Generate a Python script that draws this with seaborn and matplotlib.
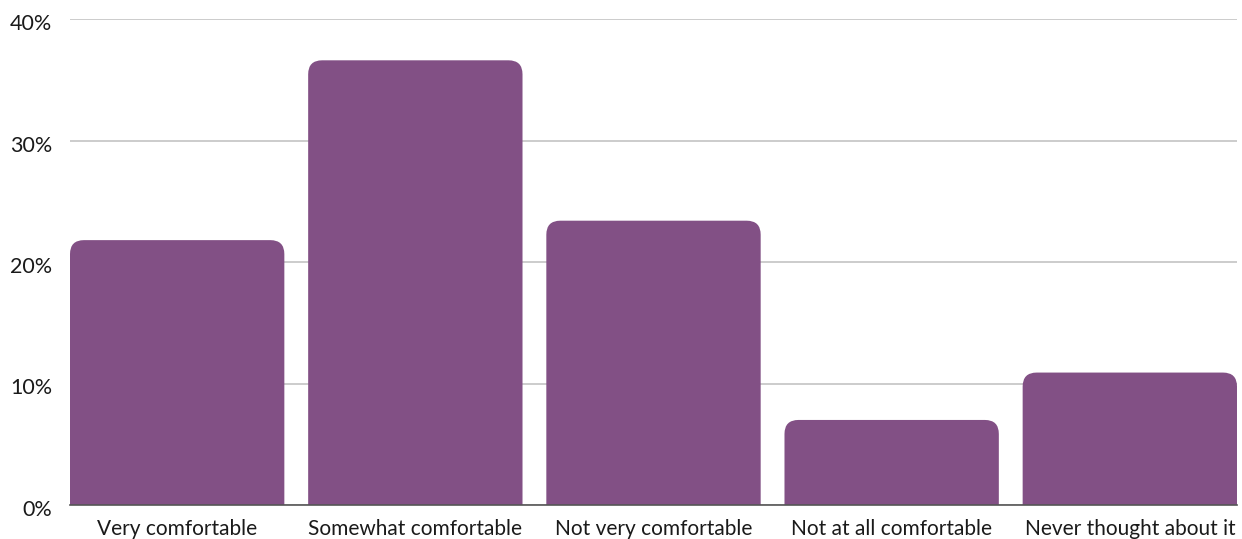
import matplotlib
matplotlib.use("Agg")
import matplotlib.pyplot as plt
from matplotlib.path import Path
from matplotlib.patches import PathPatch
from matplotlib.ticker import FuncFormatter
from matplotlib.transforms import ScaledTranslation
import seaborn as sns
import pandas as pd

categories = ["Very comfortable", "Somewhat comfortable", "Not very comfortable",
              "Not at all comfortable", "Never thought about it"]
shares = [21.8, 36.6, 23.4, 7.0, 10.9]
y_ticks = [0, 10, 20, 30, 40]

bar_color = "#825085"

sns.set_theme(style="white")
plt.rcParams["font.family"] = ["Lato", "DejaVu Sans"]

df = pd.DataFrame({"category": categories, "share": shares})

fig = plt.figure(figsize=(12.42, 5.39), dpi=100)
ax = fig.add_axes([70 / 1242, 34 / 539, 1167 / 1242, 486 / 539])

sns.barplot(data=df, x="category", y="share", color=bar_color, width=0.9,
            saturation=1, ax=ax, zorder=3)

ax.set_xlim(-0.45, 4.45)
ax.set_ylim(0, 40)

# Replace the square bars with bars rounded at the top corners
fig.canvas.draw()
px_x = ax.transData.transform([(1, 0)])[0][0] - ax.transData.transform([(0, 0)])[0][0]
px_y = ax.transData.transform([(0, 1)])[0][1] - ax.transData.transform([(0, 0)])[0][1]
radius_px = 14
rx = radius_px / px_x
ry = radius_px / px_y
for patch in list(ax.patches):
    x0, y0 = patch.get_x(), patch.get_y()
    w, h = patch.get_width(), patch.get_height()
    x1, y1 = x0 + w, y0 + h
    r_y = min(ry, h / 2)
    verts = [
        (x0, y0), (x0, y1 - r_y),
        (x0, y1), (x0 + rx, y1),
        (x1 - rx, y1),
        (x1, y1), (x1, y1 - r_y),
        (x1, y0), (x0, y0),
    ]
    codes = [Path.MOVETO, Path.LINETO, Path.CURVE3, Path.CURVE3, Path.LINETO,
             Path.CURVE3, Path.CURVE3, Path.LINETO, Path.CLOSEPOLY]
    ax.add_patch(PathPatch(Path(verts, codes), facecolor=bar_color,
                           edgecolor="none", zorder=3))
    patch.remove()

ax.set_yticks(y_ticks)
ax.yaxis.set_major_formatter(FuncFormatter(lambda v, _: f"{v:.0f}%"))
ax.grid(axis="y", color="#c4c4c4", linewidth=1.2, zorder=0)
ax.grid(axis="x", visible=False)

for side in ["top", "right", "left"]:
    ax.spines[side].set_visible(False)
ax.spines["bottom"].set_color("#555555")
ax.spines["bottom"].set_linewidth(1.2)
ax.spines["bottom"].set_zorder(4)

ax.set_xlabel("")
ax.set_ylabel("")
ax.tick_params(axis="y", length=0, pad=13, labelsize=15.5, labelcolor="#1a1a1a")
ax.tick_params(axis="x", length=0, pad=10, labelsize=15, labelcolor="#1a1a1a")

# Nudge the percentage labels slightly below their gridlines
for lbl in ax.get_yticklabels():
    lbl.set_transform(lbl.get_transform() + ScaledTranslation(0, -3 / 100, fig.dpi_scale_trans))

fig.savefig("out.png", dpi=100)
